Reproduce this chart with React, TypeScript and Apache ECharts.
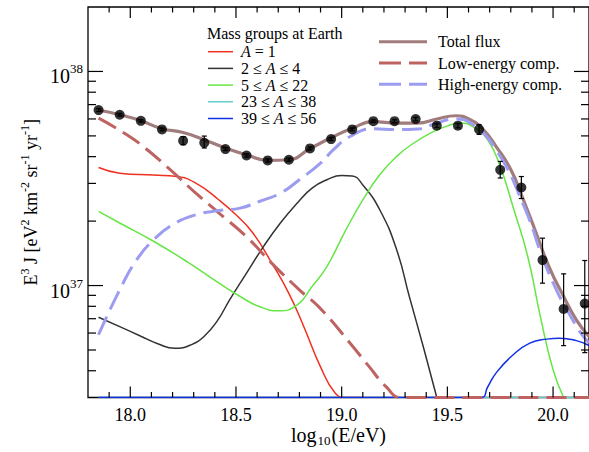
import React, { useEffect, useRef } from "react";
import * as echarts from "echarts";

// ---- data (x: log10(E/eV), y: E^3 J in units of 1e37 eV^2 km^-2 sr^-1 yr^-1) ----
const dataX = [17.85, 17.95, 18.05, 18.15, 18.25, 18.35, 18.45, 18.55, 18.65, 18.75, 18.85, 18.95, 19.05, 19.15, 19.25, 19.35, 19.45, 19.55, 19.65, 19.75, 19.85, 19.95, 20.05, 20.15];
const dataY = [6.6, 6.28, 5.88, 5.36, 4.75, 4.64, 4.34, 4.05, 3.84, 3.87, 4.37, 4.83, 5.36, 5.86, 5.86, 5.99, 5.58, 5.58, 5.36, 3.47, 2.87, 1.315, 0.778, 0.824];
const errLow = [6.5, 6.19, 5.8, 5.28, 4.55, 4.39, 4.27, 3.98, 3.77, 3.8, 4.3, 4.76, 5.28, 5.78, 5.77, 5.88, 5.47, 5.45, 5.08, 3.18, 2.55, 1.026, 0.524, 0.486];
const errHigh = [6.7, 6.37, 5.96, 5.44, 4.96, 4.99, 4.41, 4.12, 3.91, 3.94, 4.44, 4.9, 5.44, 5.94, 5.95, 6.1, 5.69, 5.71, 5.65, 3.8, 3.23, 1.665, 1.134, 1.309];

const redX = [17.85, 17.95, 18.11, 18.22, 18.31, 18.42, 18.5, 18.58, 18.67, 18.75, 18.82, 18.9, 18.97, 19.02, 19.1];
const redY = [3.56, 3.35, 3.28, 3.23, 3.01, 2.51, 2.14, 1.76, 1.27, 0.92, 0.646, 0.417, 0.314, 0.3, 0.3];

const blackX = [17.85, 17.95, 18.05, 18.13, 18.21, 18.29, 18.35, 18.41, 18.47, 18.55, 18.63, 18.71, 18.79, 18.86, 18.93, 19.0, 19.05, 19.1, 19.18, 19.26, 19.32, 19.39, 19.45];
const blackY = [0.711, 0.643, 0.58, 0.535, 0.509, 0.53, 0.58, 0.68, 0.857, 1.143, 1.52, 1.96, 2.43, 2.85, 3.12, 3.27, 3.25, 2.95, 2.26, 1.47, 0.889, 0.501, 0.3];

const greenX = [17.85, 17.95, 18.11, 18.27, 18.42, 18.52, 18.61, 18.7, 18.79, 18.86, 18.93, 19.02, 19.1, 19.18, 19.26, 19.34, 19.42, 19.5, 19.56, 19.62, 19.69, 19.75, 19.81, 19.88, 19.94, 20.0, 20.05];
const greenY = [2.22, 1.96, 1.61, 1.29, 1.026, 0.889, 0.798, 0.762, 0.813, 0.989, 1.227, 1.82, 2.51, 3.29, 4.01, 4.62, 5.15, 5.57, 5.74, 5.53, 4.8, 3.6, 2.34, 1.37, 0.716, 0.404, 0.3];

const cyanX = [17.85, 20.17];
const cyanY = [0.3, 0.3];

const blueX = [17.85, 19.0, 19.66, 19.69, 19.73, 19.81, 19.89, 19.97, 20.03, 20.11, 20.17];
const blueY = [0.3, 0.3, 0.3, 0.335, 0.39, 0.474, 0.538, 0.562, 0.568, 0.553, 0.525];

const totalX = [17.85, 17.95, 18.05, 18.15, 18.25, 18.35, 18.45, 18.55, 18.65, 18.75, 18.85, 18.95, 19.05, 19.15, 19.26, 19.36, 19.45, 19.54, 19.61, 19.67, 19.73, 19.8, 19.86, 19.92, 19.98, 20.05, 20.11, 20.17];
const totalY = [6.61, 6.28, 5.89, 5.4, 5.19, 4.8, 4.39, 4.08, 3.84, 3.87, 4.36, 4.9, 5.43, 5.83, 5.74, 5.74, 6.0, 6.21, 5.94, 5.35, 4.47, 3.48, 2.51, 1.76, 1.23, 0.889, 0.692, 0.578];

const highX = [17.85, 17.95, 18.03, 18.11, 18.2, 18.31, 18.42, 18.52, 18.61, 18.71, 18.8, 18.9, 18.96, 19.04, 19.15, 19.26, 19.36, 19.45, 19.54, 19.61, 19.73, 19.86, 19.98, 20.11, 20.17];
const highY = [0.589, 0.955, 1.318, 1.633, 1.923, 2.14, 2.24, 2.3, 2.47, 2.7, 3.12, 3.73, 4.3, 4.97, 5.4, 5.35, 5.38, 5.74, 6.0, 5.74, 4.31, 2.38, 1.143, 0.646, 0.54];

const lowX = [17.85, 17.98, 18.07, 18.19, 18.31, 18.42, 18.55, 18.67, 18.8, 18.9, 19.04, 19.13, 19.21, 19.28, 19.4, 20.17];
const lowY = [6.05, 5.09, 4.39, 3.47, 2.7, 2.18, 1.69, 1.27, 0.955, 0.78, 0.538, 0.418, 0.337, 0.3, 0.3, 0.3];

const xMajorTicks = [18.0, 18.5, 19.0, 19.5, 20.0];
const xMinorTicks = [17.9, 18.1, 18.2, 18.3, 18.4, 18.6, 18.7, 18.8, 18.9, 19.1, 19.2, 19.3, 19.4, 19.6, 19.7, 19.8, 19.9, 20.1];
const yMajorTicks = [1, 10];
const yMinorTicks = [0.4, 0.5, 0.6, 0.7, 0.8, 0.9, 2, 3, 4, 5, 6, 7, 8, 9];

const massTitle = "Mass groups at Earth";
const massLabels = ["{i|A} = 1", "2 ≤ {i|A} ≤ 4", "5 ≤ {i|A} ≤ 22", "23 ≤ {i|A} ≤ 38", "39 ≤ {i|A} ≤ 56"];
const compLabels = ["Total flux", "Low-energy comp.", "High-energy comp."];

// ---- styles ----
const X_MIN = 17.8;
const X_MAX = 20.17;
const Y_MIN = 0.3;
const Y_MAX = 20;
const FONT = "'Liberation Serif', 'Times New Roman', serif";
const massColors = ["#f03020", "#333333", "#66e645", "#66cccc", "#1030e6"];
const totalColor = "#a07c7c";
const lowColor = "#bf6262";
const highColor = "#9c9cf0";
const DASH = [20, 8];
const SMOOTH = 0.5;

const pairs = (xs: number[], ys: number[]) => xs.map((x, i) => [x, ys[i]]);

export default function App() {
  const ref = useRef<HTMLDivElement>(null);
  useEffect(() => {
    if (!ref.current) return;
    const chart = echarts.init(ref.current, null, { renderer: "svg" });

    const thin = (name: string, xs: number[], ys: number[], color: string) => ({
      name,
      type: "line",
      data: pairs(xs, ys),
      showSymbol: false,
      smooth: SMOOTH,
      lineStyle: { color, width: 1.5 },
      silent: true,
      z: 2,
    });

    const tickData: number[][] = [];
    xMajorTicks.forEach((v) => tickData.push([v, Y_MIN, 0]));
    xMinorTicks.forEach((v) => tickData.push([v, Y_MIN, 1]));
    yMajorTicks.forEach((v) => tickData.push([X_MIN, v, 2]));
    yMinorTicks.forEach((v) => tickData.push([X_MIN, v, 3]));

    const legendGraphics: any[] = [];
    legendGraphics.push({
      type: "text",
      x: 207,
      y: 33.5,
      style: { text: massTitle, fontFamily: FONT, fontSize: 16, fill: "#000", verticalAlign: "middle" },
    });
    massLabels.forEach((lab, i) => {
      const y = 51.7 + i * 16.7;
      legendGraphics.push({
        type: "line",
        shape: { x1: 208, y1: y, x2: 233, y2: y },
        style: { stroke: massColors[i], lineWidth: 1.5 },
      });
      legendGraphics.push({
        type: "text",
        x: 241,
        y,
        style: {
          text: lab,
          fontFamily: FONT,
          fontSize: 16,
          fill: "#000",
          verticalAlign: "middle",
          rich: { i: { fontStyle: "italic", fontFamily: FONT, fontSize: 16, fill: "#000" } },
        },
      });
    });
    const compColors = [totalColor, lowColor, highColor];
    compLabels.forEach((lab, i) => {
      const y = 41.7 + i * 21.3;
      legendGraphics.push({
        type: "line",
        shape: { x1: 379, y1: y, x2: 427, y2: y },
        style: { stroke: compColors[i], lineWidth: 3, lineDash: i === 0 ? null : [22, 8] },
      });
      legendGraphics.push({
        type: "text",
        x: 438,
        y,
        style: { text: lab, fontFamily: FONT, fontSize: 16, fill: "#000", verticalAlign: "middle" },
      });
    });

    chart.setOption({
      animation: false,
      backgroundColor: "#fff",
      grid: {
        left: 88,
        top: 7,
        width: 501,
        height: 390.5,
        show: true,
        borderColor: "#000",
        borderWidth: 1.3,
        backgroundColor: "transparent",
        containLabel: false,
        outerBoundsMode: "none",
      },
      xAxis: {
        type: "value",
        min: X_MIN,
        max: X_MAX,
        axisLine: { show: false },
        axisTick: { show: false },
        splitLine: { show: false },
        axisLabel: {
          customValues: xMajorTicks,
          formatter: (v: number) => v.toFixed(1),
          fontFamily: FONT,
          fontSize: 18,
          color: "#000",
          margin: 8,
        },
        name: "{n|log}{sub|10}{n|(E/eV)}",
        nameLocation: "middle",
        nameGap: 27,
        nameMoveOverlap: false,
        nameTextStyle: {
          verticalAlign: "top",
          rich: {
            n: { fontFamily: FONT, fontSize: 20, color: "#000", verticalAlign: "top", lineHeight: 22 },
            sub: { fontFamily: FONT, fontSize: 13, color: "#000", verticalAlign: "bottom", padding: [0, 1, 0, 1] },
          },
        },
      },
      yAxis: {
        type: "log",
        logBase: 10,
        min: Y_MIN,
        max: Y_MAX,
        axisLine: { show: false },
        axisTick: { show: false },
        splitLine: { show: false },
        axisLabel: {
          showMinLabel: false,
          showMaxLabel: false,
          margin: 5,
          padding: [6, 0, 0, 0],
          formatter: (v: number) => {
            const l = Math.log10(v);
            if (Math.abs(l - Math.round(l)) > 1e-6) return "";
            return "{b|10}{s|" + (Math.round(l) + 37) + "}";
          },
          rich: {
            b: { fontFamily: FONT, fontSize: 20, color: "#000", verticalAlign: "bottom", lineHeight: 24 },
            s: { fontFamily: FONT, fontSize: 13, color: "#000", verticalAlign: "top" },
          },
        },
        name: "{n|E}{s|3}{n| J [eV}{s|2}{n| km}{s|-2}{n| sr}{s|-1}{n| yr}{s|-1}{n|]}",
        nameLocation: "middle",
        nameRotate: 90,
        nameGap: 48,
        nameMoveOverlap: false,
        nameTextStyle: {
          rich: {
            n: { fontFamily: FONT, fontSize: 18, color: "#000", verticalAlign: "bottom", lineHeight: 21 },
            s: { fontFamily: FONT, fontSize: 12, color: "#000", verticalAlign: "top" },
          },
        },
      },
      graphic: legendGraphics,
      series: [
        {
          name: "ticks",
          type: "custom",
          silent: true,
          clip: false,
          z: 10,
          data: tickData,
          renderItem: (params: any, api: any) => {
            const cs = params.coordSys;
            const kind = api.value(2);
            const st = { stroke: "#000", lineWidth: 1.2 };
            if (kind <= 1) {
              const px = api.coord([api.value(0), 1])[0];
              const len = kind === 0 ? 11 : 5.5;
              const yb = cs.y + cs.height;
              return {
                type: "group",
                children: [
                  { type: "line", shape: { x1: px, y1: yb, x2: px, y2: yb - len }, style: st },
                  { type: "line", shape: { x1: px, y1: cs.y, x2: px, y2: cs.y + len }, style: st },
                ],
              };
            }
            const py = api.coord([19, api.value(1)])[1];
            const len = kind === 2 ? 15 : 8;
            const xr = cs.x + cs.width;
            return {
              type: "group",
              children: [
                { type: "line", shape: { x1: cs.x, y1: py, x2: cs.x + len, y2: py }, style: st },
                { type: "line", shape: { x1: xr, y1: py, x2: xr - len, y2: py }, style: st },
              ],
            };
          },
        },
        thin("A = 1", redX, redY, massColors[0]),
        thin("2-4", blackX, blackY, massColors[1]),
        thin("5-22", greenX, greenY, massColors[2]),
        thin("23-38", cyanX, cyanY, massColors[3]),
        thin("39-56", blueX, blueY, massColors[4]),
        {
          name: "Total flux",
          type: "line",
          data: pairs(totalX, totalY),
          showSymbol: false,
          smooth: SMOOTH,
          silent: true,
          z: 3,
          lineStyle: { color: totalColor, width: 3.2 },
        },
        {
          name: "Low-energy comp.",
          type: "line",
          data: pairs(lowX, lowY),
          showSymbol: false,
          smooth: SMOOTH,
          silent: true,
          z: 4,
          lineStyle: { color: lowColor, width: 3, type: DASH },
        },
        {
          name: "High-energy comp.",
          type: "line",
          data: pairs(highX, highY),
          showSymbol: false,
          smooth: SMOOTH,
          silent: true,
          z: 5,
          lineStyle: { color: highColor, width: 3, type: DASH },
        },
        {
          name: "errors",
          type: "custom",
          silent: true,
          z: 6,
          data: dataX.map((x, i) => [x, errLow[i], errHigh[i]]),
          renderItem: (params: any, api: any) => {
            const lo = api.coord([api.value(0), api.value(1)]);
            const hi = api.coord([api.value(0), api.value(2)]);
            const st = { stroke: "#000", lineWidth: 1.2 };
            return {
              type: "group",
              children: [
                { type: "line", shape: { x1: lo[0], y1: lo[1], x2: hi[0], y2: hi[1] }, style: st },
                { type: "line", shape: { x1: lo[0] - 2.5, y1: lo[1], x2: lo[0] + 2.5, y2: lo[1] }, style: st },
                { type: "line", shape: { x1: hi[0] - 2.5, y1: hi[1], x2: hi[0] + 2.5, y2: hi[1] }, style: st },
              ],
            };
          },
        },
        {
          name: "data",
          type: "scatter",
          data: pairs(dataX, dataY),
          symbol: "circle",
          symbolSize: 10,
          itemStyle: { color: "#000" },
          silent: true,
          z: 7,
        },
      ],
    });
    return () => chart.dispose();
  }, []);
  return (
    <div
      ref={ref}
      style={{ position: "absolute", left: 0, top: 0, width: 589, height: 452, background: "#fff" }}
    />
  );
}
